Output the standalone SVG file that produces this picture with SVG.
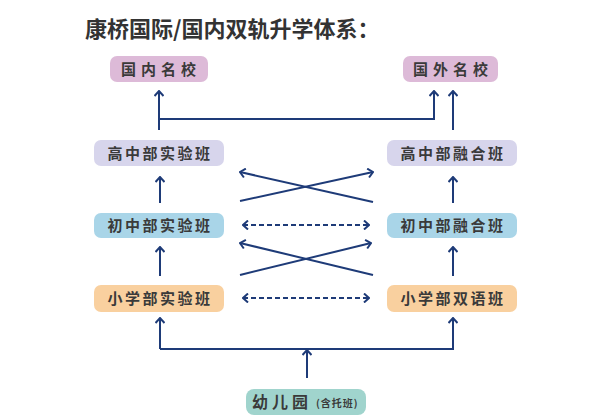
<svg xmlns="http://www.w3.org/2000/svg" width="599" height="420" viewBox="0 0 599 420">
<style>
.t{font-family:"Noto Sans CJK SC","Noto Sans",sans-serif;font-weight:bold;fill:#3a3a3a;font-size:15px;text-anchor:middle;letter-spacing:2.5px}
.ln{stroke:#1e3b78;stroke-width:2;fill:none}
.ar{marker-end:url(#a)}
.da{stroke-dasharray:5,3;marker-start:url(#a);marker-end:url(#a)}
</style>
<defs>
<marker id="a" viewBox="0 0 10 10" refX="9" refY="5" markerWidth="10" markerHeight="10" markerUnits="userSpaceOnUse" orient="auto-start-reverse">
<path d="M4,0.5 L9,5 L4,9.5" fill="none" stroke="#1e3b78" stroke-width="2"/>
</marker>
</defs>
<rect width="599" height="420" fill="#ffffff"/>
<text x="85" y="37" font-family="'Noto Sans CJK SC','Noto Sans',sans-serif" font-weight="bold" font-size="22" fill="#333333">康桥国际/国内双轨升学体系：</text>

<g id="connectors">
<path class="ln ar" d="M159,130 L159,91"/>
<path class="ln ar" d="M159,119 L434,119 L434,91"/>
<path class="ln ar" d="M453,130 L453,91"/>
<path class="ln ar" d="M160,203 L160,177"/>
<path class="ln ar" d="M453,203 L453,177"/>
<path class="ln ar" d="M160,276 L160,247"/>
<path class="ln ar" d="M453,276 L453,247"/>
<path class="ln ar" d="M240,201 L373,172"/>
<path class="ln ar" d="M373,202 L240,172"/>
<path class="ln ar" d="M240,275 L371,243"/>
<path class="ln ar" d="M373,275 L240,243"/>
<path class="ln da" d="M243,225 L369,225"/>
<path class="ln da" d="M243,298 L369,298"/>
<path class="ln ar" d="M160,349 L160,318"/>
<path class="ln ar" d="M160,349 L453,349 L453,318"/>
<path class="ln ar" d="M307,378 L307,350"/>
</g>

<g id="n-gnmx"><rect x="110" y="56" width="98" height="26" rx="7" fill="#ddbad8"/><text class="t" x="161" y="74.5" style="letter-spacing:5px">国内名校</text></g>
<g id="n-gwmx"><rect x="403" y="56" width="95" height="26" rx="7" fill="#ddbad8"/><text class="t" x="453" y="74.5" style="letter-spacing:5px">国外名校</text></g>
<g id="n-gz-sy"><rect x="94" y="140" width="130" height="26" rx="7" fill="#d7d5ec"/><text class="t" x="160" y="158.5">高中部实验班</text></g>
<g id="n-gz-rh"><rect x="387" y="140" width="130" height="26" rx="7" fill="#d7d5ec"/><text class="t" x="453" y="158.5">高中部融合班</text></g>
<g id="n-cz-sy"><rect x="94" y="213" width="130" height="25" rx="7" fill="#a9d5e8"/><text class="t" x="160" y="231">初中部实验班</text></g>
<g id="n-cz-rh"><rect x="387" y="213" width="130" height="25" rx="7" fill="#a9d5e8"/><text class="t" x="453" y="231">初中部融合班</text></g>
<g id="n-xx-sy"><rect x="94" y="285" width="130" height="27" rx="7" fill="#f9d09f"/><text class="t" x="160" y="304">小学部实验班</text></g>
<g id="n-xx-sy2"><rect x="387" y="285" width="130" height="27" rx="7" fill="#f9d09f"/><text class="t" x="453" y="304">小学部双语班</text></g>
<g id="n-yey"><rect x="246" y="389" width="120" height="26" rx="8" fill="#a0d4cd"/><text class="t" x="252" y="408" style="text-anchor:start;font-size:16px;letter-spacing:4px">幼儿园</text><text class="t" x="316" y="407" style="text-anchor:start;font-size:10px;letter-spacing:1px">(含托班)</text></g>
</svg>
